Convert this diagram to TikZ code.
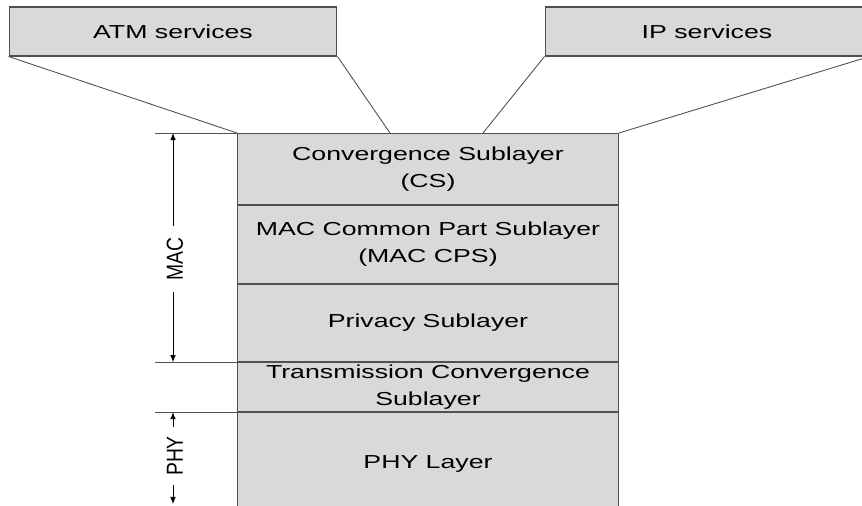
\documentclass[tikz,border=0pt]{standalone}
\usepackage{fontspec}
\setmainfont{Liberation Sans}[FakeStretch=1.42]
\newfontfamily\rotfont{Liberation Sans}
\usetikzlibrary{positioning,calc,arrows.meta}
\definecolor{layergray}{HTML}{D9D9D9}
\definecolor{edgegray}{HTML}{505050}
\newcommand{\tallrot}[1]{\scalebox{1}[1.2]{#1}}
\tikzset{
  layerbox/.style={draw=edgegray, fill=layergray, line width=0.6pt, minimum width=7.62cm,
    inner sep=1pt, align=center, font=\fontsize{10.7}{15.4}\selectfont},
  servicebox/.style={draw=edgegray, fill=layergray, line width=0.6pt, minimum height=0.98cm,
    inner sep=1pt, font=\fontsize{10.7}{15.4}\selectfont},
  thinline/.style={draw=edgegray, line width=0.5pt},
  spanlabel/.style={rotate=90, inner sep=0.22cm, font=\rotfont\fontsize{11}{13}\selectfont},
  tip/.style={-{Latex[length=4pt,width=3.2pt]}, black, line width=0.5pt}
}
\begin{document}
\begin{tikzpicture}[x=0.02cm, y=-0.02cm]
     \useasboundingbox (0, 0) rectangle (862, 506);
         \node[servicebox, minimum width=6.56cm] (atm) at (173, 31.5){ATM services};
         \node[servicebox, minimum width=6.48cm] (ip) at (707, 31.5){IP services};
         \node[layerbox, minimum height=1.42cm, anchor=north west] (cs) at (237, 133){Convergence Sublayer\\(CS)};
         \node[layerbox, minimum height=1.56cm, below=0pt of cs] (cps){MAC Common Part Sublayer\\(MAC CPS)};
         \node[layerbox, minimum height=1.54cm, below=0pt of cps] (priv){Privacy Sublayer};
         \node[layerbox, minimum height=0.98cm, below=0pt of priv] (tc){Transmission Convergence\\Sublayer};
         \node[layerbox, minimum height=2.04cm, below=0pt of tc] (phy){PHY Layer};
             \coordinate (atmfoot) at ($(cs.north west)+(153, 0)$);
             \coordinate (ipfoot) at ($(cs.north west)+(246, 0)$);
             \draw[thinline] (atm.south west) to (cs.north west);
             \draw[thinline] (atm.south east) to (atmfoot);
             \draw[thinline] (ip.south west) to (ipfoot);
             \draw[thinline] (ip.south east) to (cs.north east);
         \coordinate (mactop) at ($(cs.north west)+(-64, 0)$);
         \coordinate (macbot) at ($(priv.south west)+(-64, 0)$);
         \coordinate (phytop) at ($(tc.south west)+(-64, 0)$);
         \coordinate (phybot) at (173, 504);
             \draw[thinline] (cs.north west) to ++(-82, 0);
             \draw[thinline] (priv.south west) to ++(-82, 0);
             \draw[thinline] (tc.south west) to ++(-82, 0);
         \node[spanlabel] (mac) at ($(mactop)!0.55!(macbot)+(2, 0)$){\tallrot{MAC}};
             \draw[tip] (mac.east -| mactop) to (mactop);
             \draw[tip] (mac.west -| mactop) to (macbot);
         \node[spanlabel, inner sep=0.18cm] (phylbl) at (175, 456){\tallrot{PHY}};
             \draw[tip] (phylbl.east -| phytop) to (phytop);
             \draw[tip] (phylbl.west -| phytop) to (phybot);
\end{tikzpicture}
\end{document}
